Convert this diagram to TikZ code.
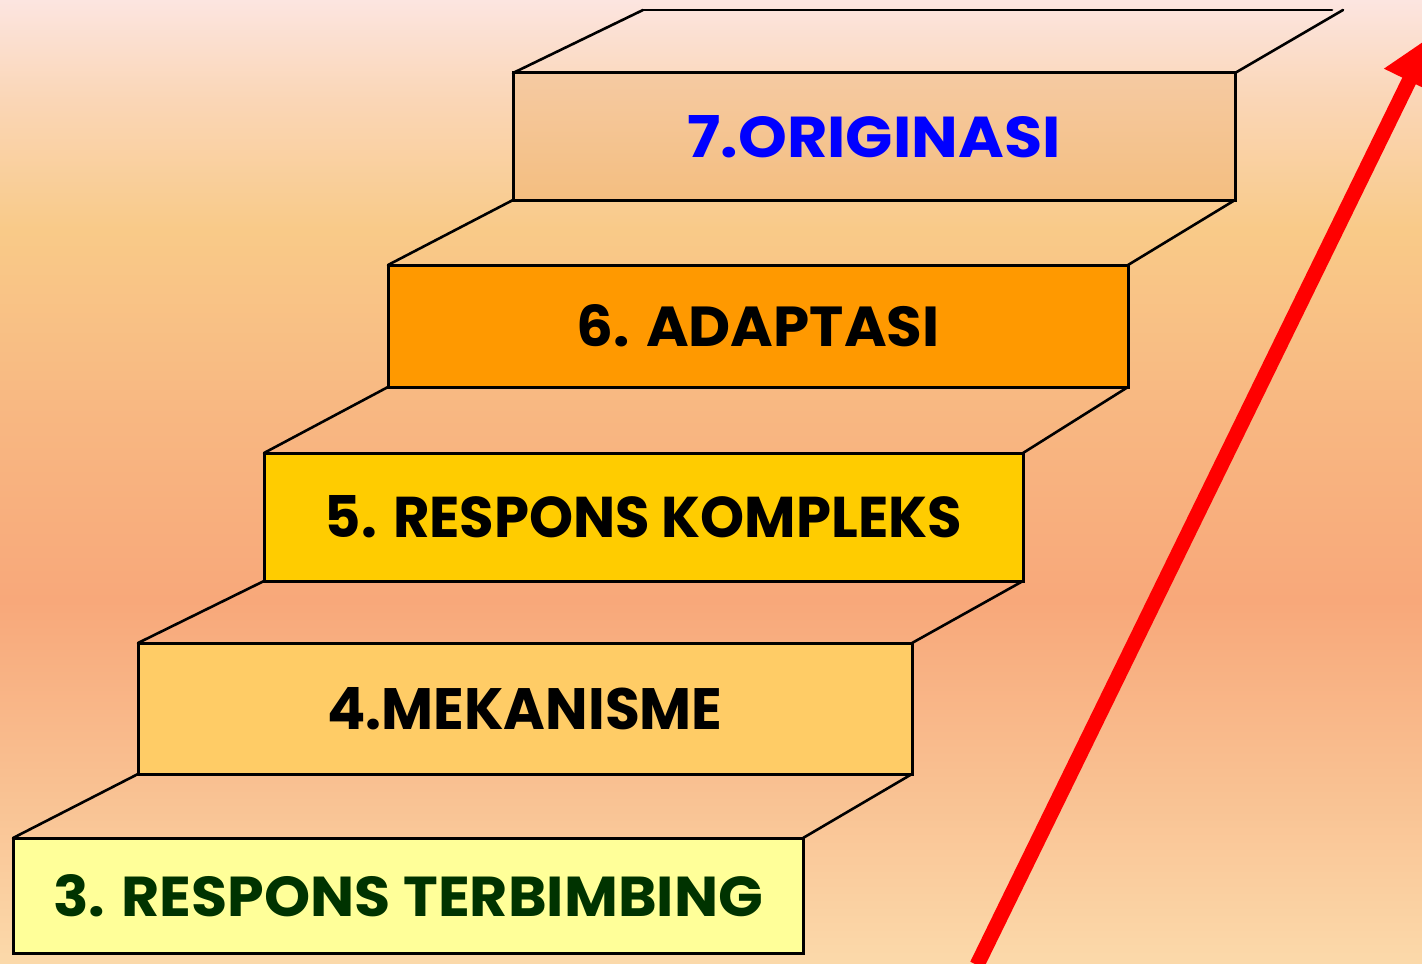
\documentclass[tikz,border=0pt]{standalone}
\usepackage{fontspec}
\setmainfont{Poppins}
\usetikzlibrary{arrows.meta}
\definecolor{cTop}{RGB}{252,229,224}
\definecolor{cA}{RGB}{250,214,182}
\definecolor{cB}{RGB}{249,202,136}
\definecolor{cC}{RGB}{248,184,130}
\definecolor{cD}{RGB}{248,168,122}
\definecolor{cE}{RGB}{249,192,145}
\definecolor{cBot}{RGB}{251,217,170}
\definecolor{fThree}{RGB}{255,255,153}
\definecolor{fFour}{RGB}{255,204,102}
\definecolor{fFive}{RGB}{255,204,0}
\definecolor{fSix}{RGB}{255,153,0}
\definecolor{fSevenT}{RGB}{245,202,162}
\definecolor{fSevenB}{RGB}{244,190,128}
\definecolor{tGreen}{RGB}{0,51,0}
\definecolor{tBlue}{RGB}{0,0,255}
\pgfdeclareverticalshading{bgshade}{100bp}{color(0bp)=(cBot); color(25bp)=(cBot); color(34.5bp)=(cE); color(43.8bp)=(cD); color(54bp)=(cC); color(63bp)=(cB); color(69.8bp)=(cA); color(75bp)=(cTop); color(100bp)=(cTop)}
\tikzset{
  stepbox/.style={draw=black, line width=1.5pt, inner sep=0pt, outer sep=0pt, rectangle, font=\bfseries},
  sideline/.style={draw=black, line width=1.3pt, line cap=round},
  redarrow/.style={draw=red, line width=7.5pt, -{Triangle[length=25pt,width=26pt]}}
}
\newcommand{\steptext}[2]{\resizebox{#1}{21pt}{#2}}
\begin{document}
\begin{tikzpicture}[x=0.5pt,y=-0.5pt]
\useasboundingbox (0,0) rectangle (1422,963);
\clip (0,0) rectangle (1422,963);
\shade[shading=bgshade] (0,0) rectangle (1422,963);
% steps
\node[stepbox, fill=fThree, minimum width=395pt, minimum height=57.5pt] (s3) at (408,895.5) {\color{tGreen}\steptext{355pt}{3. RESPONS TERBIMBING}};
\node[stepbox, fill=fFour, minimum width=387pt, minimum height=65.5pt] (s4) at (525,708.5) {\steptext{197.5pt}{4.MEKANISME}};
\node[stepbox, fill=fFive, minimum width=379.5pt, minimum height=64pt] (s5) at (643.5,517) {\steptext{318.5pt}{5. RESPONS KOMPLEKS}};
\node[stepbox, fill=fSix, minimum width=370pt, minimum height=61pt] (s6) at (758,326) {\steptext{181.5pt}{6. ADAPTASI}};
\node[stepbox, top color=fSevenT, bottom color=fSevenB, minimum width=361pt, minimum height=63.5pt] (s7) at (874,136.5) {\color{tBlue}\steptext{186.5pt}{7.ORIGINASI}};
% top face edges
\coordinate (tl) at (643,10);
\coordinate (tr) at (1343,10);
\coordinate (tm) at (1332,10);
\draw[sideline] (s3.north west) -- (s4.south west);
\draw[sideline] (s3.north east) -- (s4.south east);
\draw[sideline] (s4.north west) -- (s5.south west);
\draw[sideline] (s4.north east) -- (s5.south east);
\draw[sideline] (s5.north west) -- (s6.south west);
\draw[sideline] (s5.north east) -- (s6.south east);
\draw[sideline] (s6.north west) -- (s7.south west);
\draw[sideline] (s6.north east) -- (s7.south east);
\draw[sideline] (s7.north west) -- (tl);
\draw[sideline] (s7.north east) -- (tr);
\draw[sideline] (tl) -- (tm);
% arrow
\coordinate (a0) at (977,965);
\coordinate (a1) at (1431,36);
\draw[redarrow] (a0) -- (a1);
\end{tikzpicture}
\end{document}
